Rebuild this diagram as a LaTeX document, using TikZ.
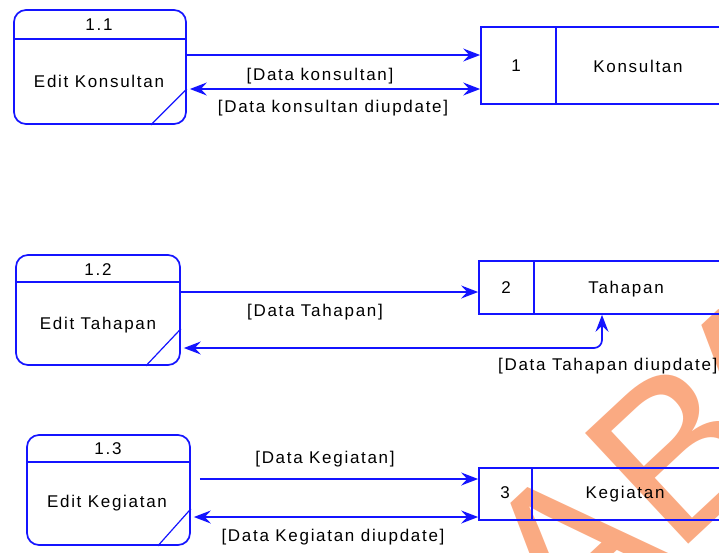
\documentclass[tikz,border=0pt]{standalone}
\usepackage{fontspec}
\setmainfont{Liberation Sans}
\newfontfamily\dfdfont[LetterSpace=10]{Liberation Sans}
\usetikzlibrary{arrows.meta,calc}
\definecolor{dfd}{RGB}{20,20,255}
\definecolor{wm}{RGB}{247,113,47}
\begin{document}
\begin{tikzpicture}[x=1pt,y=-1pt,
  proc/.style={draw=dfd, line width=1.7pt, rounded corners=12pt, inner sep=0},
  store/.style={draw=dfd, line width=1.7pt, inner sep=0},
  part/.style={draw=dfd, line width=1.7pt},
  slash/.style={draw=dfd, line width=1.2pt},
  lbl/.style={font=\dfdfont\fontsize{17}{20}\selectfont, text=black, inner sep=0},
  tip/.tip={Stealth[length=17pt,width=13pt,inset=6pt]},
  flow/.style={draw=dfd, line width=1.7pt, -tip},
  flowtwo/.style={draw=dfd, line width=1.7pt, tip-tip},
]
\useasboundingbox (0,0) rectangle (719,552);

% ---------- watermark (behind) ----------
\node[rotate=43, anchor=base west, inner sep=0, text=wm, text opacity=0.6,
      font=\fontsize{220}{230}\selectfont] (wmk) at (568,657) {AB\kern-32pt A};

% ---------- processes ----------
\node[proc, minimum width=172pt, minimum height=114pt] (p1) at (100,67) {};
\draw[part] ([yshift=-30pt]p1.north west) -- ([yshift=-30pt]p1.north east);
\draw[slash] ([xshift=-36pt]p1.south east) -- ([yshift=36pt]p1.south east);
\node[lbl] (p1id) at (99,25) {1.1};
\node[lbl] (p1t) at (99,81) {Edit Konsultan};

\node[proc, minimum width=164pt, minimum height=110pt] (p2) at (98,310) {};
\draw[part] ([yshift=-28pt]p2.north west) -- ([yshift=-28pt]p2.north east);
\draw[slash] ([xshift=-35pt]p2.south east) -- ([yshift=37pt]p2.south east);
\node[lbl] (p2id) at (98,270) {1.2};
\node[lbl] (p2t) at (98,325) {Edit Tahapan};

\node[proc, minimum width=163pt, minimum height=110pt] (p3) at (108.5,490) {};
\draw[part] ([yshift=-28pt]p3.north west) -- ([yshift=-28pt]p3.north east);
\draw[slash] ([xshift=-33pt]p3.south east) -- ([yshift=37pt]p3.south east);
\node[lbl] (p3id) at (108,449) {1.3};
\node[lbl] (p3t) at (107,503) {Edit Kegiatan};

% ---------- data stores ----------
\node[store, minimum width=319pt, minimum height=77pt] (s1) at (640.5,65.5) {};
\draw[part] (556,27) -- (556,104);
\node[lbl] (s1id) at (516,66) {1};
\node[lbl] (s1t) at (638,66) {Konsultan};

\node[store, minimum width=321pt, minimum height=53pt] (s2) at (639.5,287.5) {};
\draw[part] (534,261) -- (534,314);
\node[lbl] (s2id) at (506,288) {2};
\node[lbl] (s2t) at (626,289) {Tahapan};

\node[store, minimum width=321pt, minimum height=52pt] (s3) at (639.5,494) {};
\draw[part] (532,468) -- (532,520);
\node[lbl] (s3id) at (505,493) {3};
\node[lbl] (s3t) at (625,494) {Kegiatan};

% ---------- flows ----------
\coordinate (a1) at ($(p1.east)+(0,-12)$);
\draw[flow] (a1) -- (a1 -| s1.west);
\coordinate (b1) at ($(p1.east)+(3,22)$);
\draw[flowtwo] (b1) -- (b1 -| s1.west);
\node[lbl] (l1a) at (320,76) {[Data konsultan]};
\node[lbl] (l1b) at (333,108) {[Data konsultan diupdate]};

\coordinate (a2) at ($(p2.east)+(0,-18)$);
\draw[flow] (a2) -- (a2 -| s2.west);
\coordinate (c2) at ($(p2.east)+(3,38)$);
\coordinate (d2) at ($(s2.south)+(-37.5,0)$);
\draw[flowtwo, rounded corners=8pt] (c2) -- (c2 -| d2) -- (d2);
\node[lbl] (l2a) at (315,312) {[Data Tahapan]};
\node[lbl, anchor=west] (l2b) at (498,366) {[Data Tahapan diupdate]};

\coordinate (a3) at ($(p3.east)+(9,-11)$);
\draw[flow] (a3) -- (a3 -| s3.west);
\coordinate (b3) at ($(p3.east)+(3,27)$);
\draw[flowtwo] (b3) -- (b3 -| s3.west);
\node[lbl] (l3a) at (325,459) {[Data Kegiatan]};
\node[lbl] (l3b) at (333,537) {[Data Kegiatan diupdate]};
\end{tikzpicture}
\end{document}
